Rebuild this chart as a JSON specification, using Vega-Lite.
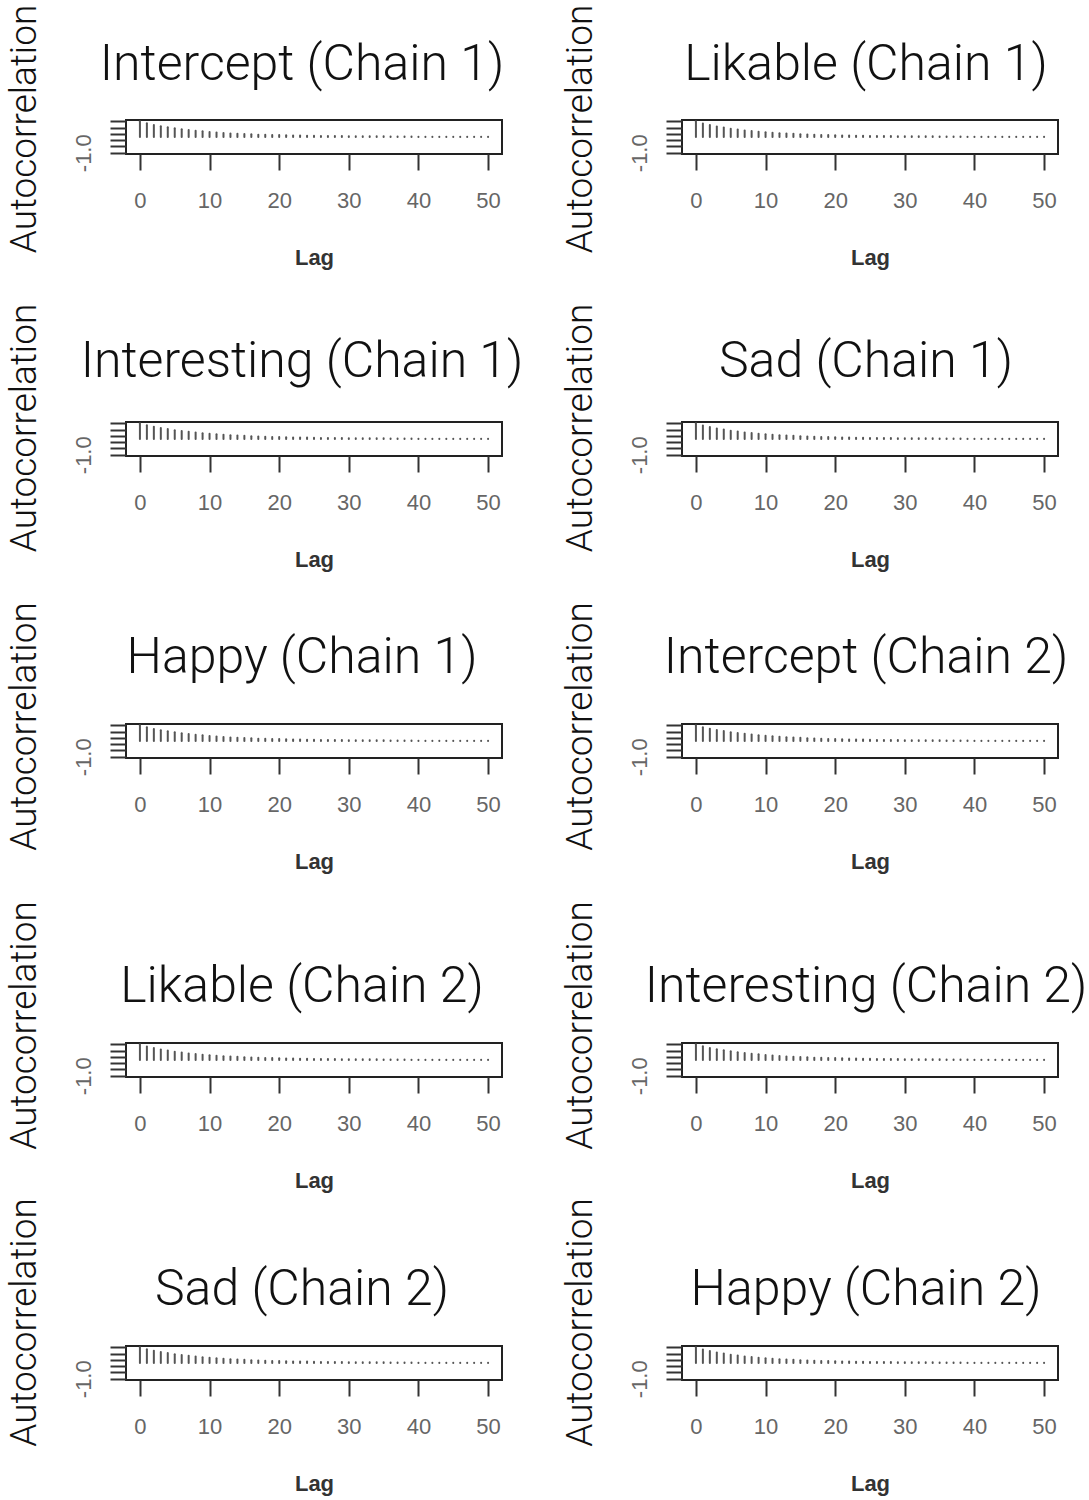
{
"$schema":"https://vega.github.io/schema/vega-lite/v6.json",
"padding":{"left":3,"top":3,"right":5,"bottom":5},
"background":"white",
"bounds":"full",
"spacing":25,
"datasets":{
"A":[{"lag":0,"acf":1.00},{"lag":1,"acf":0.87},{"lag":2,"acf":0.77},{"lag":3,"acf":0.69},{"lag":4,"acf":0.62},{"lag":5,"acf":0.55},{"lag":6,"acf":0.50},{"lag":7,"acf":0.45},{"lag":8,"acf":0.40},{"lag":9,"acf":0.36},{"lag":10,"acf":0.32},{"lag":11,"acf":0.29},{"lag":12,"acf":0.26},{"lag":13,"acf":0.23},{"lag":14,"acf":0.21},{"lag":15,"acf":0.19},{"lag":16,"acf":0.17},{"lag":17,"acf":0.15},{"lag":18,"acf":0.14},{"lag":19,"acf":0.13},{"lag":20,"acf":0.12},{"lag":21,"acf":0.11},{"lag":22,"acf":0.10},{"lag":23,"acf":0.09},{"lag":24,"acf":0.08},{"lag":25,"acf":0.08},{"lag":26,"acf":0.07},{"lag":27,"acf":0.07},{"lag":28,"acf":0.06},{"lag":29,"acf":0.06},{"lag":30,"acf":0.05},{"lag":31,"acf":0.05},{"lag":32,"acf":0.05},{"lag":33,"acf":0.04},{"lag":34,"acf":0.04},{"lag":35,"acf":0.04},{"lag":36,"acf":0.03},{"lag":37,"acf":0.03},{"lag":38,"acf":0.03},{"lag":39,"acf":0.03},{"lag":40,"acf":0.02},{"lag":41,"acf":0.02},{"lag":42,"acf":0.02},{"lag":43,"acf":0.02},{"lag":44,"acf":0.02},{"lag":45,"acf":0.01},{"lag":46,"acf":0.01},{"lag":47,"acf":0.01},{"lag":48,"acf":0.01},{"lag":49,"acf":0.01},{"lag":50,"acf":0.01}],
"B":[{"lag":0,"acf":1.00},{"lag":1,"acf":0.86},{"lag":2,"acf":0.76},{"lag":3,"acf":0.67},{"lag":4,"acf":0.60},{"lag":5,"acf":0.53},{"lag":6,"acf":0.47},{"lag":7,"acf":0.42},{"lag":8,"acf":0.38},{"lag":9,"acf":0.34},{"lag":10,"acf":0.30},{"lag":11,"acf":0.27},{"lag":12,"acf":0.24},{"lag":13,"acf":0.22},{"lag":14,"acf":0.20},{"lag":15,"acf":0.18},{"lag":16,"acf":0.16},{"lag":17,"acf":0.15},{"lag":18,"acf":0.13},{"lag":19,"acf":0.12},{"lag":20,"acf":0.11},{"lag":21,"acf":0.10},{"lag":22,"acf":0.09},{"lag":23,"acf":0.08},{"lag":24,"acf":0.08},{"lag":25,"acf":0.07},{"lag":26,"acf":0.07},{"lag":27,"acf":0.06},{"lag":28,"acf":0.06},{"lag":29,"acf":0.05},{"lag":30,"acf":0.05},{"lag":31,"acf":0.05},{"lag":32,"acf":0.04},{"lag":33,"acf":0.04},{"lag":34,"acf":0.04},{"lag":35,"acf":0.03},{"lag":36,"acf":0.03},{"lag":37,"acf":0.03},{"lag":38,"acf":0.03},{"lag":39,"acf":0.02},{"lag":40,"acf":0.02},{"lag":41,"acf":0.02},{"lag":42,"acf":0.02},{"lag":43,"acf":0.02},{"lag":44,"acf":0.01},{"lag":45,"acf":0.01},{"lag":46,"acf":0.01},{"lag":47,"acf":0.01},{"lag":48,"acf":0.01},{"lag":49,"acf":0.01},{"lag":50,"acf":0.01}],
"C":[{"lag":0,"acf":1.00},{"lag":1,"acf":0.88},{"lag":2,"acf":0.78},{"lag":3,"acf":0.70},{"lag":4,"acf":0.63},{"lag":5,"acf":0.56},{"lag":6,"acf":0.51},{"lag":7,"acf":0.46},{"lag":8,"acf":0.41},{"lag":9,"acf":0.37},{"lag":10,"acf":0.33},{"lag":11,"acf":0.30},{"lag":12,"acf":0.27},{"lag":13,"acf":0.24},{"lag":14,"acf":0.22},{"lag":15,"acf":0.20},{"lag":16,"acf":0.18},{"lag":17,"acf":0.16},{"lag":18,"acf":0.15},{"lag":19,"acf":0.13},{"lag":20,"acf":0.12},{"lag":21,"acf":0.11},{"lag":22,"acf":0.10},{"lag":23,"acf":0.09},{"lag":24,"acf":0.09},{"lag":25,"acf":0.08},{"lag":26,"acf":0.07},{"lag":27,"acf":0.07},{"lag":28,"acf":0.06},{"lag":29,"acf":0.06},{"lag":30,"acf":0.05},{"lag":31,"acf":0.05},{"lag":32,"acf":0.05},{"lag":33,"acf":0.04},{"lag":34,"acf":0.04},{"lag":35,"acf":0.04},{"lag":36,"acf":0.03},{"lag":37,"acf":0.03},{"lag":38,"acf":0.03},{"lag":39,"acf":0.03},{"lag":40,"acf":0.02},{"lag":41,"acf":0.02},{"lag":42,"acf":0.02},{"lag":43,"acf":0.02},{"lag":44,"acf":0.02},{"lag":45,"acf":0.02},{"lag":46,"acf":0.01},{"lag":47,"acf":0.01},{"lag":48,"acf":0.01},{"lag":49,"acf":0.01},{"lag":50,"acf":0.01}]
},
"config":{
"view":{"stroke":"#222","strokeWidth":2},
"title":{"font":"Roboto","fontWeight":300,"fontSize":50,"color":"#111","anchor":"middle","baseline":"alphabetic","frame":"group"},
"axis":{"domain":false,"grid":false,"ticks":true,"tickSize":16,"tickWidth":2,"tickColor":"#333","labelFont":"Liberation Sans","labelFontSize":22,"labelColor":"#666","labelOverlap":false,"labelFlush":false},
"axisX":{"labelBaseline":"alphabetic","labelPadding":37,"titleFont":"Liberation Sans","titleFontWeight":"bold","titleFontSize":22,"titleColor":"#333","titleBaseline":"alphabetic","titleY":110.5},
"axisY":{"labelAngle":270,"labelAlign":"center","labelBaseline":"alphabetic","labelPadding":20,"titleFont":"Roboto","titleFontWeight":300,"titleFontSize":37,"titleColor":"#111","titleAngle":270,"titleAlign":"center","titleBaseline":"alphabetic","titleX":-91}
},
"vconcat":[
{"bounds":"flush","spacing":302,"vconcat":[
{"bounds":"flush","spacing":180,"hconcat":[
{"width":376,"height":34,"title":{"text":"Intercept (Chain 1)","dx":-12,"offset":-86},"data":{"name":"A"},"mark":{"type":"rule","color":"#555","strokeWidth":2,"strokeCap":"round"},"encoding":{"x":{"field":"lag","type":"quantitative","scale":{"domain":[-2,52],"nice":false,"zero":false},"axis":{"values":[0,10,20,30,40,50],"title":"Lag"}},"y":{"field":"acf","type":"quantitative","scale":{"domain":[-1.08,1.08],"nice":false},"axis":{"values":[-1,-0.6,-0.2,0.2,0.6,1],"labelExpr":"datum.value == -1 ? '-1.0' : ''","title":"Autocorrelation","titleY":8.5}},"y2":{"datum":0}}},
{"width":376,"height":34,"title":{"text":"Likable (Chain 1)","dx":-4,"offset":-86},"data":{"name":"B"},"mark":{"type":"rule","color":"#555","strokeWidth":2,"strokeCap":"round"},"encoding":{"x":{"field":"lag","type":"quantitative","scale":{"domain":[-2,52],"nice":false,"zero":false},"axis":{"values":[0,10,20,30,40,50],"title":"Lag"}},"y":{"field":"acf","type":"quantitative","scale":{"domain":[-1.08,1.08],"nice":false},"axis":{"values":[-1,-0.6,-0.2,0.2,0.6,1],"labelExpr":"datum.value == -1 ? '-1.0' : ''","title":"Autocorrelation","titleY":8.5}},"y2":{"datum":0}}}
]},
{"bounds":"flush","spacing":180,"hconcat":[
{"width":376,"height":34,"title":{"text":"Interesting (Chain 1)","dx":-12,"offset":-84},"data":{"name":"C"},"mark":{"type":"rule","color":"#555","strokeWidth":2,"strokeCap":"round"},"encoding":{"x":{"field":"lag","type":"quantitative","scale":{"domain":[-2,52],"nice":false,"zero":false},"axis":{"values":[0,10,20,30,40,50],"title":"Lag"}},"y":{"field":"acf","type":"quantitative","scale":{"domain":[-1.08,1.08],"nice":false},"axis":{"values":[-1,-0.6,-0.2,0.2,0.6,1],"labelExpr":"datum.value == -1 ? '-1.0' : ''","title":"Autocorrelation","titleY":5.5}},"y2":{"datum":0}}},
{"width":376,"height":34,"title":{"text":"Sad (Chain 1)","dx":-4,"offset":-84},"data":{"name":"B"},"mark":{"type":"rule","color":"#555","strokeWidth":2,"strokeCap":"round"},"encoding":{"x":{"field":"lag","type":"quantitative","scale":{"domain":[-2,52],"nice":false,"zero":false},"axis":{"values":[0,10,20,30,40,50],"title":"Lag"}},"y":{"field":"acf","type":"quantitative","scale":{"domain":[-1.08,1.08],"nice":false},"axis":{"values":[-1,-0.6,-0.2,0.2,0.6,1],"labelExpr":"datum.value == -1 ? '-1.0' : ''","title":"Autocorrelation","titleY":5.5}},"y2":{"datum":0}}}
]},
{"bounds":"flush","spacing":180,"hconcat":[
{"width":376,"height":34,"title":{"text":"Happy (Chain 1)","dx":-12,"offset":-81},"data":{"name":"A"},"mark":{"type":"rule","color":"#555","strokeWidth":2,"strokeCap":"round"},"encoding":{"x":{"field":"lag","type":"quantitative","scale":{"domain":[-2,52],"nice":false,"zero":false},"axis":{"values":[0,10,20,30,40,50],"title":"Lag"}},"y":{"field":"acf","type":"quantitative","scale":{"domain":[-1.08,1.08],"nice":false},"axis":{"values":[-1,-0.6,-0.2,0.2,0.6,1],"labelExpr":"datum.value == -1 ? '-1.0' : ''","title":"Autocorrelation","titleY":2}},"y2":{"datum":0}}},
{"width":376,"height":34,"title":{"text":"Intercept (Chain 2)","dx":-4,"offset":-81},"data":{"name":"C"},"mark":{"type":"rule","color":"#555","strokeWidth":2,"strokeCap":"round"},"encoding":{"x":{"field":"lag","type":"quantitative","scale":{"domain":[-2,52],"nice":false,"zero":false},"axis":{"values":[0,10,20,30,40,50],"title":"Lag"}},"y":{"field":"acf","type":"quantitative","scale":{"domain":[-1.08,1.08],"nice":false},"axis":{"values":[-1,-0.6,-0.2,0.2,0.6,1],"labelExpr":"datum.value == -1 ? '-1.0' : ''","title":"Autocorrelation","titleY":2}},"y2":{"datum":0}}}
]}
]},
{"bounds":"flush","spacing":303,"vconcat":[
{"bounds":"flush","spacing":180,"hconcat":[
{"width":376,"height":34,"title":{"text":"Likable (Chain 2)","dx":-12,"offset":-111},"data":{"name":"B"},"mark":{"type":"rule","color":"#555","strokeWidth":2,"strokeCap":"round"},"encoding":{"x":{"field":"lag","type":"quantitative","scale":{"domain":[-2,52],"nice":false,"zero":false},"axis":{"values":[0,10,20,30,40,50],"title":"Lag"}},"y":{"field":"acf","type":"quantitative","scale":{"domain":[-1.08,1.08],"nice":false},"axis":{"values":[-1,-0.6,-0.2,0.2,0.6,1],"labelExpr":"datum.value == -1 ? '-1.0' : ''","title":"Autocorrelation","titleY":-18}},"y2":{"datum":0}}},
{"width":376,"height":34,"title":{"text":"Interesting (Chain 2)","dx":-4,"offset":-111},"data":{"name":"A"},"mark":{"type":"rule","color":"#555","strokeWidth":2,"strokeCap":"round"},"encoding":{"x":{"field":"lag","type":"quantitative","scale":{"domain":[-2,52],"nice":false,"zero":false},"axis":{"values":[0,10,20,30,40,50],"title":"Lag"}},"y":{"field":"acf","type":"quantitative","scale":{"domain":[-1.08,1.08],"nice":false},"axis":{"values":[-1,-0.6,-0.2,0.2,0.6,1],"labelExpr":"datum.value == -1 ? '-1.0' : ''","title":"Autocorrelation","titleY":-18}},"y2":{"datum":0}}}
]},
{"bounds":"flush","spacing":180,"hconcat":[
{"width":376,"height":34,"title":{"text":"Sad (Chain 2)","dx":-12,"offset":-117},"data":{"name":"C"},"mark":{"type":"rule","color":"#555","strokeWidth":2,"strokeCap":"round"},"encoding":{"x":{"field":"lag","type":"quantitative","scale":{"domain":[-2,52],"nice":false,"zero":false},"axis":{"values":[0,10,20,30,40,50],"title":"Lag"}},"y":{"field":"acf","type":"quantitative","scale":{"domain":[-1.08,1.08],"nice":false},"axis":{"values":[-1,-0.6,-0.2,0.2,0.6,1],"labelExpr":"datum.value == -1 ? '-1.0' : ''","title":"Autocorrelation","titleY":-24}},"y2":{"datum":0}}},
{"width":376,"height":34,"title":{"text":"Happy (Chain 2)","dx":-4,"offset":-117},"data":{"name":"B"},"mark":{"type":"rule","color":"#555","strokeWidth":2,"strokeCap":"round"},"encoding":{"x":{"field":"lag","type":"quantitative","scale":{"domain":[-2,52],"nice":false,"zero":false},"axis":{"values":[0,10,20,30,40,50],"title":"Lag"}},"y":{"field":"acf","type":"quantitative","scale":{"domain":[-1.08,1.08],"nice":false},"axis":{"values":[-1,-0.6,-0.2,0.2,0.6,1],"labelExpr":"datum.value == -1 ? '-1.0' : ''","title":"Autocorrelation","titleY":-24}},"y2":{"datum":0}}}
]}
]}
]
}
